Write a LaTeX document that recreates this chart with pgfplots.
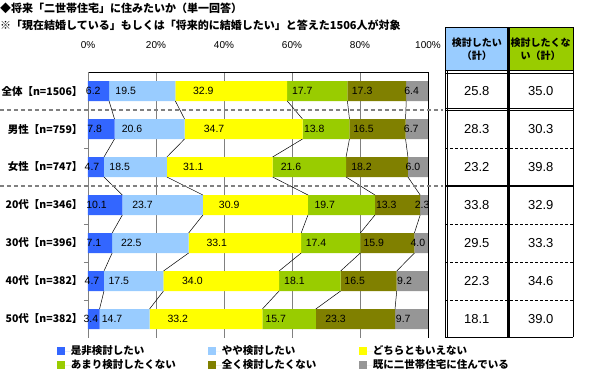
\documentclass[border=0pt]{standalone}
\usepackage{fontspec}
\setmainfont{Liberation Sans}
\newfontfamily\jp{Noto Sans CJK JP}
\usepackage{pgfplots}
\pgfplotsset{compat=1.18}
\usepackage{pgfplotstable}

\definecolor{c1}{HTML}{3366FF}
\definecolor{c2}{HTML}{99CCFF}
\definecolor{c3}{HTML}{FFFF00}
\definecolor{c4}{HTML}{99CC00}
\definecolor{c5}{HTML}{808000}
\definecolor{c6}{HTML}{969696}
\definecolor{gridgray}{HTML}{808080}

\pgfplotstableread{
y a b c d e f
0 6.2 19.5 32.9 17.7 17.3 6.4
1 7.8 20.6 34.7 13.8 16.5 6.7
2 4.7 18.5 31.1 21.6 18.2 6.0
3 10.1 23.7 30.9 19.7 13.3 2.3
4 7.1 22.5 33.1 17.4 15.9 4.0
5 4.7 17.5 34.0 18.1 16.5 9.2
6 3.4 14.7 33.2 15.7 23.3 9.7
}\data

\pgfplotsset{
 seg/.style={fill=#1, draw=none,
   nodes near coords, point meta=explicit symbolic,
   nodes near coords style={anchor=center, xshift={-0.85pt*\pgfplotspointmeta}, font=\fontsize{10.5}{12}\selectfont, text=black},
   legend image code/.code={\fill[fill=#1] (0pt,-4pt) rectangle (8pt,4pt); \path (0pt,0pt) -- (14pt,0pt);}
 }
}

\newcommand{\jb}{\jp\bfseries}

\begin{document}
\begin{tikzpicture}
\useasboundingbox (0pt,0pt) rectangle (603pt,-375pt);
\node[anchor=west, inner sep=0pt, font=\jb\fontsize{11}{13}\selectfont] at (0pt,-8pt) {◆将来「二世帯住宅」に住みたいか（単一回答）};
\node[anchor=west, inner sep=0pt, font=\jb\fontsize{11}{13}\selectfont] at (0pt,-25pt) {※「現在結婚している」もしくは「将来的に結婚したい」と答えた1506人が対象};

\begin{axis}[
 at={(88pt,-338pt)}, anchor=south west,
 scale only axis, width=340pt, height=266pt,
 xmin=0, xmax=100, ymin=-0.5, ymax=6.5, y dir=reverse,
 xbar stacked, bar width=0.526,
 axis x line*=top, axis y line*=left,
 x axis line style={black, line width=0.8pt},
 y axis line style={gridgray, line width=0.8pt},
 xtick={0,20,...,100},
 /pgf/number format/assume math mode=true,
 xticklabel={\pgfmathprintnumber{\tick}\%},
 xticklabel style={font=\fontsize{10}{12}\selectfont, yshift=20pt},
 xmajorgrids, grid style={gridgray, line width=0.8pt},
 ytick={0,...,6},
 yticklabels={全体【n=1506】,男性【n=759】,女性【n=747】,20代【n=346】,30代【n=396】,40代【n=382】,50代【n=382】},
 yticklabel style={font=\jb\fontsize{10.5}{12}\selectfont, xshift=-2pt},
 minor ytick={0.5,1.5,...,5.5},
 tick align=outside,
 major tick length=0pt, minor tick length=4pt,
 minor tick style={gridgray, line width=0.8pt},
 clip=false,
 legend columns=3,
 legend cell align=left,
 legend style={at={(-0.092,-0.03)}, anchor=north west, draw=none, fill=none, inner sep=0pt,
   row sep=4pt, column sep=0pt,
   nodes={inner sep=0pt, text height=8pt, text depth=2pt, font=\jb\fontsize{10.5}{12}\selectfont}},
]
\addplot[seg=c1] table[x=a, y=y, meta=a] {\data};
\addlegendentry{\makebox[137pt][l]{是非検討したい}}
\addplot[seg=c2] table[x=b, y=y, meta=b] {\data};
\addlegendentry{\makebox[137pt][l]{やや検討したい}}
\addplot[seg=c3] table[x=c, y=y, meta=c] {\data};
\addlegendentry{どちらともいえない}
\addplot[seg=c4] table[x=d, y=y, meta=d] {\data};
\addlegendentry{\makebox[137pt][l]{あまり検討したくない}}
\addplot[seg=c5] table[x=e, y=y, meta=e] {\data};
\addlegendentry{\makebox[137pt][l]{全く検討したくない}}
\addplot[seg=c6] table[x=f, y=y, meta=f] {\data};
\addlegendentry{既に二世帯住宅に住んでいる}
\end{axis}

\begin{axis}[
 at={(88pt,-338pt)}, anchor=south west,
 scale only axis, width=340pt, height=266pt,
 xmin=0, xmax=100, ymin=-0.5, ymax=6.5, y dir=reverse,
 hide axis, clip=false, unbounded coords=jump,
]
% 100% line
\addplot[black, line width=0.8pt] coordinates {(100,-0.5) (100,6.5)};
% series lines
\addplot[black, line width=0.5pt] coordinates {(6.2,0.263)(7.8,0.737) (nan,nan) (7.8,1.263)(4.7,1.737) (nan,nan) (4.7,2.263)(10.1,2.737) (nan,nan) (10.1,3.263)(7.1,3.737) (nan,nan) (7.1,4.263)(4.7,4.737) (nan,nan) (4.7,5.263)(3.4,5.737)};
\addplot[black, line width=0.5pt] coordinates {(25.7,0.263)(28.4,0.737) (nan,nan) (28.4,1.263)(23.2,1.737) (nan,nan) (23.2,2.263)(33.8,2.737) (nan,nan) (33.8,3.263)(29.6,3.737) (nan,nan) (29.6,4.263)(22.2,4.737) (nan,nan) (22.2,5.263)(18.1,5.737)};
\addplot[black, line width=0.5pt] coordinates {(58.6,0.263)(63.1,0.737) (nan,nan) (63.1,1.263)(54.3,1.737) (nan,nan) (54.3,2.263)(64.7,2.737) (nan,nan) (64.7,3.263)(62.7,3.737) (nan,nan) (62.7,4.263)(56.2,4.737) (nan,nan) (56.2,5.263)(51.3,5.737)};
\addplot[black, line width=0.5pt] coordinates {(76.3,0.263)(76.9,0.737) (nan,nan) (76.9,1.263)(75.9,1.737) (nan,nan) (75.9,2.263)(84.4,2.737) (nan,nan) (84.4,3.263)(80.1,3.737) (nan,nan) (80.1,4.263)(74.3,4.737) (nan,nan) (74.3,5.263)(67.0,5.737)};
\addplot[black, line width=0.5pt] coordinates {(93.6,0.263)(93.4,0.737) (nan,nan) (93.4,1.263)(94.1,1.737) (nan,nan) (94.1,2.263)(97.7,2.737) (nan,nan) (97.7,3.263)(96.0,3.737) (nan,nan) (96.0,4.263)(90.8,4.737) (nan,nan) (90.8,5.263)(90.3,5.737)};
% dashed separators
\addplot[gridgray, line width=2pt, dash pattern=on 4pt off 3pt] coordinates {(-25.9,0.5) (104.4,0.5) (nan,nan) (-25.9,2.5) (104.4,2.5)};

% table
\fill[c2] (axis cs:105.0,-1.684) rectangle (axis cs:123.68,-0.553);
\fill[c4] (axis cs:123.68,-1.684) rectangle (axis cs:142.65,-0.553);
\draw[black, line width=0.7pt] (axis cs:105.0,-1.684) -- (axis cs:142.65,-1.684);
\draw[black, line width=0.7pt] (axis cs:105.0,-0.553) -- (axis cs:142.65,-0.553);
\draw[black, line width=0.7pt] (axis cs:105.0,-0.474) -- (axis cs:142.65,-0.474);
\draw[black, line width=0.7pt] (axis cs:105.0,0.447) -- (axis cs:142.65,0.447);
\draw[black, line width=0.7pt] (axis cs:105.0,0.513) -- (axis cs:142.65,0.513);
\draw[black, line width=0.6pt, dash pattern=on 3pt off 2pt] (axis cs:105.0,1.5) -- (axis cs:142.65,1.5);
\draw[black, line width=2pt] (axis cs:105.0,2.5) -- (axis cs:142.65,2.5);
\draw[black, line width=0.6pt, dash pattern=on 3pt off 2pt] (axis cs:105.0,3.5) -- (axis cs:142.65,3.5);
\draw[black, line width=0.6pt, dash pattern=on 3pt off 2pt] (axis cs:105.0,4.5) -- (axis cs:142.65,4.5);
\draw[black, line width=0.6pt, dash pattern=on 3pt off 2pt] (axis cs:105.0,5.5) -- (axis cs:142.65,5.5);
\draw[black, line width=0.8pt] (axis cs:105.0,6.474) -- (axis cs:142.65,6.474);
\draw[black, line width=0.7pt] (axis cs:105.0,-1.684) -- (axis cs:105.0,6.474);
\draw[black, line width=0.7pt] (axis cs:105.6,-0.553) -- (axis cs:105.6,6.474);
\draw[black, line width=3pt] (axis cs:123.68,-1.684) -- (axis cs:123.68,6.474);
\draw[black, line width=0.7pt] (axis cs:142.65,-1.684) -- (axis cs:142.65,6.474);
\node[align=center, inner sep=0pt, font=\jb\fontsize{10}{13}\selectfont] at (axis cs:114.34,-1.10) {検討したい\\（計）};
\node[align=center, inner sep=0pt, font=\jb\fontsize{10}{13}\selectfont] at (axis cs:133.16,-1.10) {検討したくな\\い（計）};
\addplot[draw=none, mark=none, nodes near coords, point meta=explicit symbolic,
  nodes near coords style={anchor=center, font=\fontsize{13}{15}\selectfont}]
  coordinates {(114.34,0)[25.8] (114.34,1)[28.3] (114.34,2)[23.2] (114.34,3)[33.8] (114.34,4)[29.5] (114.34,5)[22.3] (114.34,6)[18.1]};
\addplot[draw=none, mark=none, nodes near coords, point meta=explicit symbolic,
  nodes near coords style={anchor=center, font=\fontsize{13}{15}\selectfont}]
  coordinates {(133.16,0)[35.0] (133.16,1)[30.3] (133.16,2)[39.8] (133.16,3)[32.9] (133.16,4)[33.3] (133.16,5)[34.6] (133.16,6)[39.0]};
\end{axis}
\end{tikzpicture}
\end{document}
